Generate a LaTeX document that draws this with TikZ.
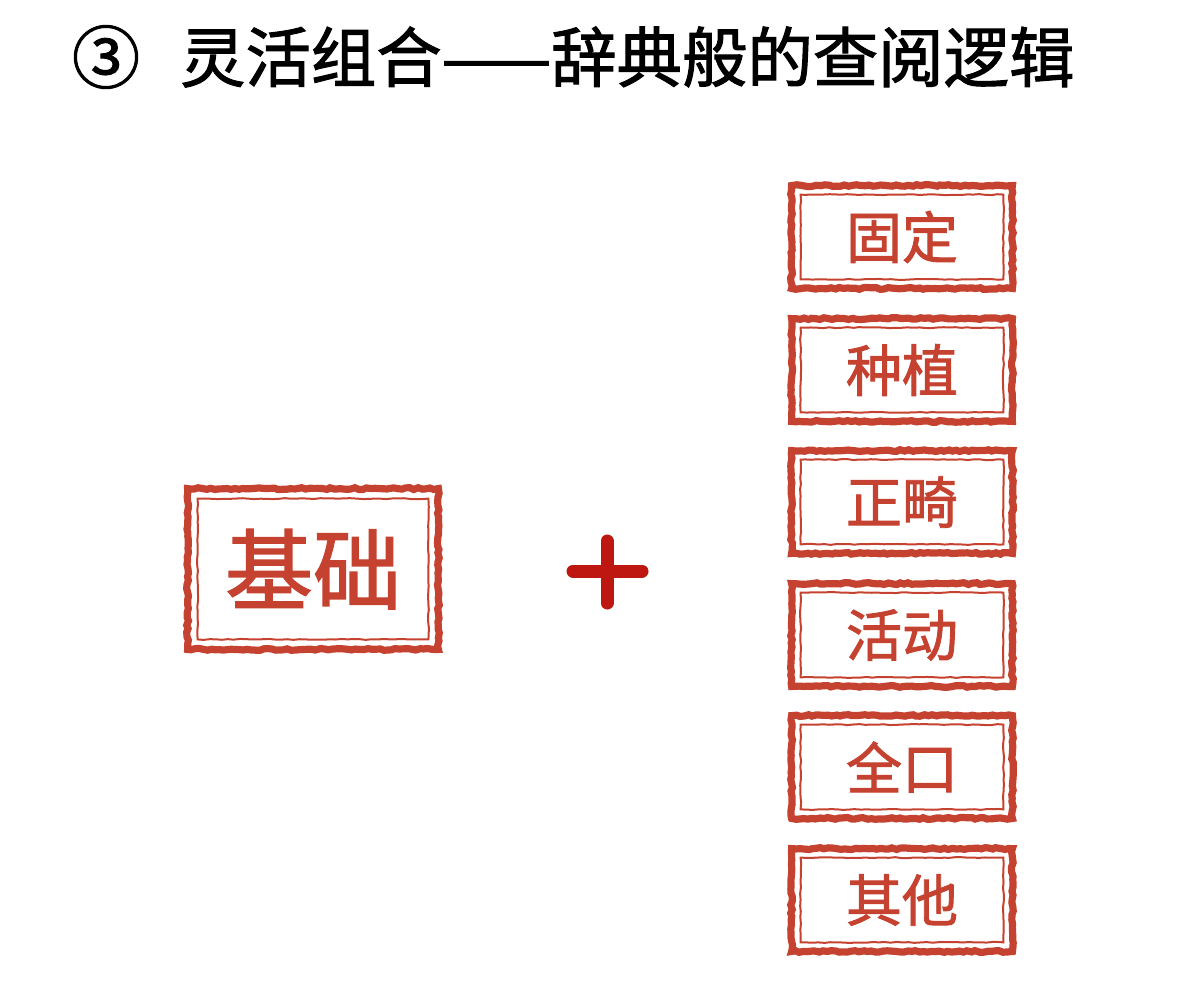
\documentclass[tikz,border=0pt]{standalone}
\usepackage{fontspec}
\usepackage{xcolor}
\usepackage{tikz}
\usetikzlibrary{decorations.pathmorphing}
\newfontfamily\cjk{Noto Sans CJK SC}[FakeBold=1.6]
\definecolor{stampred}{RGB}{198,66,48}
\definecolor{plusred}{RGB}{190,22,16}

\begin{document}
\begin{tikzpicture}[x=0.5pt,y=-0.5pt,
  every node/.style={font=\cjk},
  stampbox/.style={minimum width=110pt,minimum height=51pt,text=stampred,font=\cjk\fontsize{28}{28}\selectfont},
  stampouter/.style={draw=stampred,line width=3.6pt,decorate,decoration={random steps,segment length=2pt,amplitude=0.45pt}},
  stampinner/.style={draw=stampred,line width=1pt,decorate,decoration={random steps,segment length=3pt,amplitude=0.25pt}}]
\pgfmathsetseed{7}
\useasboundingbox (0,0) rectangle (1200,987);
\node[font=\cjk\fontsize{34}{34}\selectfont] (num) at (106,57) {③};
\node[anchor=west,font=\cjk\fontsize{32.7}{33}\selectfont] (title) at (173,57) {灵活组合——辞典般的查阅逻辑};
\node[stampbox,minimum width=125pt,minimum height=80pt,font=\cjk\fontsize{44}{44}\selectfont] (jc) at (313,569) {基础};
\draw[stampouter] (jc.north west) rectangle (jc.south east);
\draw[stampinner] ([shift={(5pt,-5pt)}]jc.north west) rectangle ([shift={(-5pt,5pt)}]jc.south east);
\draw[plusred,line width=6.5pt,line cap=round] (573,571) -- (642,571);
\draw[plusred,line width=6.5pt,line cap=round] (607,541) -- (607,603);
\foreach \name/\word/\y in {gd/固定/237,zz/种植/370,zj/正畸/502,hd/活动/635,qk/全口/767,qt/其他/900}{
  \node[stampbox] (\name) at (902,\y) {\word};
  \draw[stampouter] (\name.north west) rectangle (\name.south east);
  \draw[stampinner] ([shift={(4.5pt,-4.5pt)}]\name.north west) rectangle ([shift={(-4.5pt,4.5pt)}]\name.south east);
}
\end{tikzpicture}
\end{document}
